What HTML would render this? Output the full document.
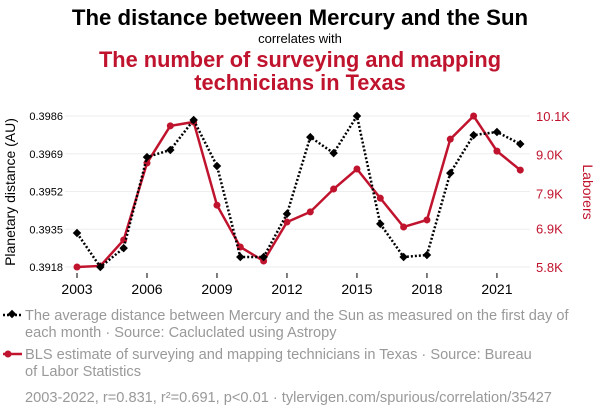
<!DOCTYPE html>
<html><head><meta charset="utf-8"><style>
body{margin:0;background:#fff;width:600px;height:414px;overflow:hidden;font-family:"Liberation Sans",sans-serif}
</style></head><body>
<svg width="600" height="414" xmlns="http://www.w3.org/2000/svg" font-family="Liberation Sans, sans-serif">
<text x="300" y="25" text-anchor="middle" font-size="22.2" font-weight="bold" fill="#000">The distance between Mercury and the Sun</text>
<text x="300" y="43" text-anchor="middle" font-size="13" fill="#000">correlates with</text>
<text x="300" y="67" text-anchor="middle" font-size="21.8" font-weight="bold" fill="#c0132e">The number of surveying and mapping</text>
<text x="300" y="90" text-anchor="middle" font-size="21.8" font-weight="bold" fill="#c0132e">technicians in Texas</text>
<g id="grid"></g><g id="axes"></g><g id="series"></g>
<text transform="translate(15,192) rotate(-90)" text-anchor="middle" font-size="14" fill="#000">Planetary distance (AU)</text>
<text transform="translate(583,192) rotate(90)" text-anchor="middle" font-size="14" fill="#c0132e">Laborers</text>
<g>
<line x1="3" y1="315" x2="22" y2="315" stroke="#000" stroke-width="2.5" stroke-dasharray="2,2"/><rect x="9" y="311" width="6" height="6" transform="rotate(45 12 314)" fill="#000"/>
<text x="25" y="320" font-size="14.6" fill="#999">The average distance between Mercury and the Sun as measured on the first day of</text>
<text x="25" y="337" font-size="14.6" fill="#999">each month · Source: Cacluclated using Astropy</text></g>
<g>
<line x1="3" y1="354" x2="22" y2="354" stroke="#c0132e" stroke-width="2.5"/><circle cx="8" cy="354" r="3.5" fill="#c0132e"/>
<text x="25" y="359" font-size="14.6" fill="#999">BLS estimate of surveying and mapping technicians in Texas · Source: Bureau</text>
<text x="25" y="376" font-size="14.6" fill="#999">of Labor Statistics</text></g>
<text x="25" y="402" font-size="14.6" fill="#999">2003-2022, r=0.831, r²=0.691, p&lt;0.01 · tylervigen.com/spurious/correlation/35427</text>
</svg>
<script>
const years=[2003,2004,2005,2006,2007,2008,2009,2010,2011,2012,2013,2014,2015,2016,2017,2018,2019,2020,2021,2022];
const distance=[0.39333,0.3918,0.39265,0.39675,0.39707,0.39842,0.39635,0.39225,0.39225,0.39419,0.39765,0.39693,0.3986,0.39374,0.39225,0.39234,0.39603,0.39774,0.39788,0.39734];
const technicians=[5800,5830,6570,8760,9820,9930,7560,6370,5970,7080,7370,8020,8590,7760,6940,7140,9440,10100,9100,8560];
const leftTicks=[0.3918,0.3935,0.3952,0.3969,0.3986];
const rightTicks=[5800,6900,7900,9000,10100];
const rightLabels=["5.8K","6.9K","7.9K","9.0K","10.1K"];
const xTicks=[2003,2006,2009,2012,2015,2018,2021];
const NS="http://www.w3.org/2000/svg";
const x=v=>77+(v-2003)*23.33;
const yL=v=>267-(v-0.3918)/(0.3986-0.3918)*151;
const yR=v=>267-(v-5800)/(10100-5800)*151;
function mk(t,a,p){const e=document.createElementNS(NS,t);for(const k in a)e.setAttribute(k,a[k]);p.appendChild(e);return e;}
const grid=document.getElementById('grid'),axes=document.getElementById('axes'),ser=document.getElementById('series');
leftTicks.forEach((t,i)=>{
 const g=mk('line',{x1:65,x2:530,y1:yL(t),y2:yL(t),stroke:'#eee','stroke-width':1},grid);
 
 
 const l=mk('text',{x:63,y:yL(t)+4,'text-anchor':'end','font-size':11,fill:'#000'},axes);l.textContent=t.toFixed(4);
 
 
});
rightTicks.forEach((t,i)=>{
 const l=mk('text',{x:536,y:yR(t)+5,'font-size':13,fill:'#c0132e'},axes);l.textContent=rightLabels[i];
 
 
});
xTicks.forEach(t=>{
 mk('line',{x1:x(t),x2:x(t),y1:273,y2:278,stroke:'#000'},axes);
 const l=mk('text',{x:x(t),y:294,'text-anchor':'middle','font-size':14,fill:'#000'},axes);l.textContent=t;
 
 
});
const rp=mk('polyline',{points:years.map((y,i)=>x(y)+','+yR(technicians[i])).join(' '),fill:'none',stroke:'#c0132e','stroke-width':2.5},ser);


years.forEach((y,i)=>{const c=mk('circle',{cx:x(y),cy:yR(technicians[i]),r:3.5,fill:'#c0132e'},ser);
 
 });
const bp=mk('polyline',{points:years.map((y,i)=>x(y)+','+yL(distance[i])).join(' '),fill:'none',stroke:'#000','stroke-width':2.5,'stroke-dasharray':'2,2'},ser);


years.forEach((y,i)=>{const cx=x(y),cy=yL(distance[i]);const r=mk('rect',{x:cx-3,y:cy-3,width:6,height:6,fill:'#000',transform:`rotate(45 ${cx} ${cy})`},ser);
 
 });
</script>
</body></html>
